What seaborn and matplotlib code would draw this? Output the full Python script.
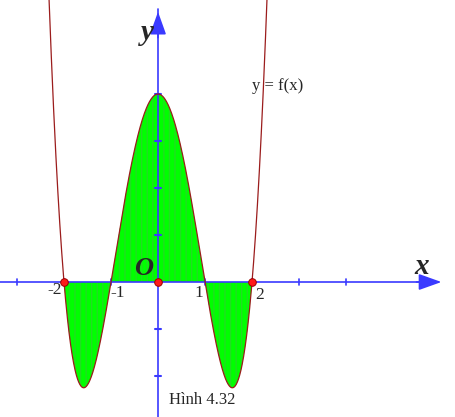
import numpy as np
import pandas as pd
import matplotlib
matplotlib.use('Agg')
import matplotlib.pyplot as plt
import seaborn as sns

# Data
roots = [-2, -1, 1, 2]            # zeros of f, marked on the x axis
marked_x = [-2, 0, 2]             # red points on the x axis
x_ticks = [-3, -2, -1, 1, 2, 3, 4]
y_ticks = [-2, -1, 1, 2, 3, 4]
tick_labels = {-2: '-2', -1: '-1', 1: '1', 2: '2'}

# curve f(x) = (x+2)(x+1)(x-1)(x-2)
coef = np.poly(roots)
xs = np.linspace(-2.45, 2.45, 600)
df = pd.DataFrame({'x': xs, 'y': np.polyval(coef, xs)})

sns.set_style('white')
plt.rcParams['font.family'] = ['Liberation Serif', 'DejaVu Serif']

fig = plt.figure(figsize=(4.56, 4.17), dpi=100)
ax = fig.add_axes([0, 0, 1, 1])
ax.set_xlim(-3.362, 6.34)
ax.set_ylim(-2.872, 6.0)
ax.axis('off')

axis_col = '#3a3aff'

# shaded region between curve and x axis
fill = df[(df['x'] >= -2) & (df['x'] <= 2)]
ax.fill_between(fill['x'], fill['y'], 0, facecolor='#00ff00',
                edgecolor='#22dd22', hatch='|||', linewidth=0, zorder=1)

# axes with arrows
ax.plot([-3.4, 5.9], [0, 0], color=axis_col, lw=1.2, zorder=2)
ax.plot([0, 0], [-2.9, 5.8], color=axis_col, lw=1.2, zorder=2)
ax.annotate('', xy=(6.03, 0), xytext=(5.5, 0),
            arrowprops=dict(arrowstyle='-|>,head_length=1.4,head_width=0.5',
                            color=axis_col, lw=1.2, shrinkA=0, shrinkB=0))
ax.annotate('', xy=(0, 5.75), xytext=(0, 5.2),
            arrowprops=dict(arrowstyle='-|>,head_length=1.4,head_width=0.5',
                            color=axis_col, lw=1.2, shrinkA=0, shrinkB=0))

# tick marks
for t in x_ticks:
    ax.plot([t, t], [-0.07, 0.07], color=axis_col, lw=1.2, zorder=2)
for t in y_ticks:
    ax.plot([-0.07, 0.07], [t, t], color=axis_col, lw=1.5, zorder=2)

# the curve
sns.lineplot(data=df, x='x', y='y', ax=ax, color='#9b1c1c', lw=0.9,
             sort=False, zorder=3)

# marked points
ax.scatter(marked_x, [0] * len(marked_x), s=30, color='#ff1a1a',
           edgecolor='#990000', linewidth=0.7, zorder=4)

# labels
ax.text(-0.23, 5.30, 'y', fontsize=21, style='italic', fontweight='bold',
        ha='center', va='center')
ax.text(5.62, 0.32, 'x', fontsize=21, style='italic', fontweight='bold',
        ha='center', va='center')
ax.text(-0.31, 0.29, 'O', fontsize=19, style='italic', fontweight='bold',
        ha='center', va='center')
label_pos = {-2: (-2.2, -0.17), -1: (-0.85, -0.23), 1: (0.87, -0.23), 2: (2.16, -0.28)}
for t, lab in tick_labels.items():
    px, py = label_pos[t]
    ax.text(px, py, lab, fontsize=12.5, ha='center', va='center')
ax.text(2.54, 4.18, 'y = f(x)', fontsize=12, ha='center', va='center')
ax.text(0.93, -2.52, 'Hình 4.32', fontsize=12, ha='center', va='center')

fig.savefig('out.png', dpi=100)
